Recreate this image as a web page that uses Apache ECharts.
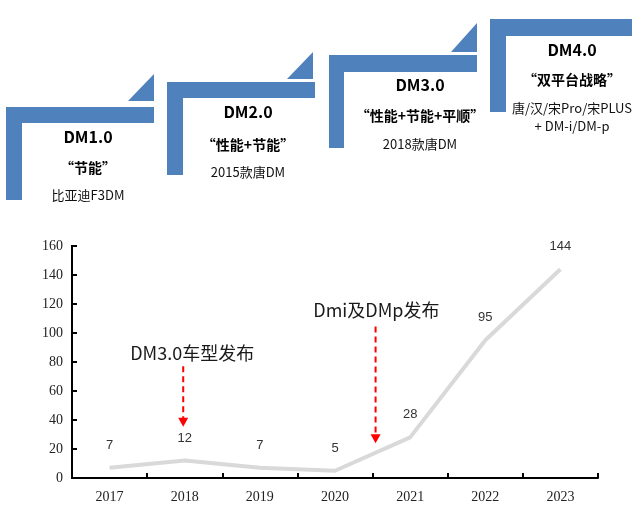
<!DOCTYPE html>
<html>
<head>
<meta charset="utf-8">
<script src="https://cdn.jsdelivr.net/npm/echarts@6/dist/echarts.min.js"></script>
<style>
  html, body { margin: 0; padding: 0; background: #fff; }
  #chart { width: 632px; height: 515px; }
</style>
</head>
<body>
<div id="chart"></div>
<script>
const years = ['2017', '2018', '2019', '2020', '2021', '2022', '2023'];
const sales = [7, 12, 7, 5, 28, 95, 144];
const yMin = 0, yMax = 160, yStep = 20;
const notes = ['DM3.0车型发布', 'Dmi及DMp发布'];

const stages = ['DM1.0', 'DM2.0', 'DM3.0', 'DM4.0'];
const slogans = ['“节能”', '“性能+节能”', '“性能+节能+平顺”', '“双平台战略”'];
const models = ['比亚迪F3DM', '2015款唐DM', '2018款唐DM', '唐/汉/宋Pro/宋PLUS\n+ DM-i/DM-p'];

const blue = '#4f81bd';
const cjk = '"Noto Sans CJK SC", sans-serif';

// decorative step shapes on top
const steps = [
  { l: [[6,107],[154,107],[154,123],[22,123],[22,200],[6,200]], t: [[128,101],[154,74],[154,101]], cx: 88, y: [137, 168, 195] },
  { l: [[167,82],[315,82],[315,98],[183,98],[183,175],[167,175]], t: [[287,79],[313,52],[313,79]], cx: 248, y: [112, 145, 172] },
  { l: [[329,55],[477,55],[477,72],[344,72],[344,148],[329,148]], t: [[451,52],[477,23],[477,52]], cx: 420, y: [85, 116, 144] },
  { l: [[490,19],[632,19],[632,36],[506,36],[506,112],[490,112]], t: null, cx: 572, y: [50, 80, 117] }
];
const graphic = [];
steps.forEach((s, i) => {
  graphic.push({ type: 'polygon', shape: { points: s.l }, style: { fill: blue } });
  if (s.t) graphic.push({ type: 'polygon', shape: { points: s.t }, style: { fill: blue } });
  graphic.push({ type: 'text', x: s.cx, y: s.y[0], style: { text: stages[i], font: 'bold 16px ' + cjk, fill: '#000', align: 'center', verticalAlign: 'middle' } });
  graphic.push({ type: 'text', x: s.cx, y: s.y[1], style: { text: slogans[i], font: 'bold 14px ' + cjk, fill: '#000', align: 'center', verticalAlign: 'middle' } });
  graphic.push({ type: 'text', x: s.cx, y: s.y[2], style: { text: models[i], font: '13px ' + cjk, fill: '#111', align: 'center', verticalAlign: 'middle', lineHeight: 18 } });
});

const chart = echarts.init(document.getElementById('chart'));
chart.setOption({
  backgroundColor: '#fff',
  animation: false,
  graphic: graphic,
  grid: { left: 72, right: 34, top: 246, bottom: 37 },
  xAxis: {
    type: 'category',
    data: years,
    boundaryGap: true,
    axisLine: { show: true, onZero: false, lineStyle: { color: '#000', width: 2 } },
    axisTick: { show: true, inside: true, length: 5, lineStyle: { color: '#000', width: 2 } },
    axisLabel: { color: '#222', fontFamily: '"Liberation Serif", serif', fontSize: 14, margin: 12 }
  },
  yAxis: {
    type: 'value',
    position: 'left',
    min: yMin,
    max: yMax,
    interval: yStep,
    splitLine: { show: false },
    axisLine: { show: true, onZero: false, lineStyle: { color: '#000', width: 2 } },
    axisTick: { show: true, inside: true, length: 5, lineStyle: { color: '#000', width: 2 } },
    axisLabel: { color: '#222', fontFamily: '"Liberation Serif", serif', fontSize: 14, margin: 9 }
  },
  series: [
    {
      type: 'line',
      data: sales,
      symbol: 'circle',
      symbolSize: 0,
      showSymbol: true,
      itemStyle: { color: '#d9d9d9' },
      lineStyle: { color: '#d9d9d9', width: 4 },
      label: { show: true, position: 'top', distance: 16, color: '#333', fontFamily: '"Liberation Sans", sans-serif', fontSize: 13 }
    }
  ]
});

// annotation arrows, placed in data units (category index may be fractional)
const arrows = [
  { at: 0.98, from: 77, to: 35.4, textAt: 1.1, textY: 86.3, text: notes[0] },
  { at: 3.54, from: 104.5, to: 24, textAt: 3.55, textY: 116, text: notes[1] }
];
const c0 = chart.convertToPixel({ xAxisIndex: 0 }, years[0]);
const c1 = chart.convertToPixel({ xAxisIndex: 0 }, years[1]);
const px = v => c0 + (c1 - c0) * v;
const py = v => chart.convertToPixel({ yAxisIndex: 0 }, v);
const extra = [];
arrows.forEach(a => {
  const x = px(a.at), y1 = py(a.from), tip = py(a.to);
  extra.push({ type: 'line', shape: { x1: x, y1: y1, x2: x, y2: tip - 8 }, style: { stroke: '#ff0000', lineWidth: 2, lineDash: [6, 4] } });
  extra.push({ type: 'polygon', shape: { points: [[x - 5, tip - 9], [x + 5, tip - 9], [x, tip]] }, style: { fill: '#ff0000' } });
  extra.push({ type: 'text', x: px(a.textAt), y: py(a.textY), style: { text: a.text, font: '18px ' + cjk, fill: '#1a1a1a', align: 'center', verticalAlign: 'middle' } });
});

// y axis line and inner ticks as filled rects, in case the built-in line is missing
const axisX = px(-0.5);
const yTop = py(yMax), yBottom = py(yMin);
extra.push({ type: 'rect', z: 100, shape: { x: axisX - 1, y: yTop - 1, width: 2, height: yBottom - yTop + 2 }, style: { fill: '#000' } });
for (let v = yMin + yStep; v <= yMax; v += yStep) {
  extra.push({ type: 'rect', z: 100, shape: { x: axisX, y: py(v) - 1, width: 5, height: 2 }, style: { fill: '#000' } });
}
chart.setOption({ graphic: graphic.concat(extra) });
</script>
</body>
</html>
